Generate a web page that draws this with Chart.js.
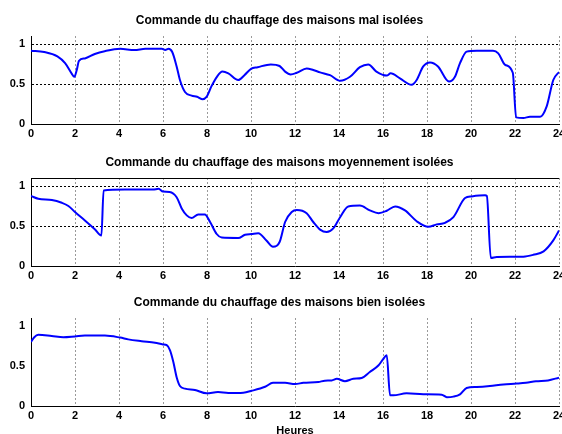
<!DOCTYPE html>
<html>
<head>
<meta charset="utf-8">
<script src="https://cdn.jsdelivr.net/npm/chart.js"></script>
<style>
  html, body { margin: 0; padding: 0; background: #fff; width: 562px; height: 434px; overflow: hidden; }
  canvas { position: absolute; left: 0; }
</style>
</head>
<body>
<canvas id="malChart" width="570" height="140" style="top:0px"></canvas>
<canvas id="moyenChart" width="570" height="140" style="top:142px"></canvas>
<canvas id="bienChart" width="570" height="160" style="top:282px"></canvas>
<script>
// Commande de chauffage (0..1) sur 24 heures
const heuresMal = [0, 0.6, 1.2, 1.55, 1.85, 1.97, 2.08, 2.18, 2.45, 2.9, 3.35, 4.05, 4.7, 5.2, 5.95, 6.1, 6.25, 6.42, 6.62, 6.77,
  7.0, 7.3, 7.55, 7.78, 7.98, 8.2, 8.45, 8.7, 8.97, 9.42, 9.7, 10.0, 10.3, 10.9, 11.3, 11.55, 11.8, 12.08, 12.53, 12.83,
  13.14, 13.59, 14.05, 14.5, 14.95, 15.33, 15.7, 16.17, 16.35, 16.77, 17.3, 17.53, 17.83, 18.14, 18.5, 19.0, 19.27, 19.5,
  19.8, 20.26, 21.0, 21.24, 21.55, 21.9, 22.05, 22.38, 22.68, 23.14, 23.44, 23.74, 24];
const commandeMal = [0.917, 0.9, 0.845, 0.76, 0.63, 0.59, 0.675, 0.79, 0.82, 0.875, 0.91, 0.94, 0.925, 0.94, 0.94, 0.925, 0.94, 0.9, 0.72, 0.55,
  0.40, 0.355, 0.34, 0.31, 0.34, 0.47, 0.59, 0.655, 0.633, 0.55, 0.61, 0.69, 0.71, 0.745, 0.725, 0.655, 0.62, 0.64, 0.695, 0.675,
  0.645, 0.61, 0.54, 0.59, 0.71, 0.745, 0.655, 0.605, 0.635, 0.57, 0.49, 0.55, 0.72, 0.77, 0.72, 0.53, 0.59, 0.76,
  0.905, 0.917, 0.917, 0.883, 0.74, 0.64, 0.083, 0.075, 0.09, 0.09, 0.22, 0.55, 0.65];

const heuresMoyen = [0, 0.33, 0.95, 1.4, 1.7, 2.0, 2.45, 2.9, 3.2, 3.3, 4.27, 5.55, 5.8, 6.0, 6.3, 6.62, 6.85, 7.08, 7.3, 7.6,
  7.9, 8.14, 8.44, 8.67, 9.42, 9.73, 10.03, 10.33, 10.7, 11.0, 11.3, 11.55, 11.85, 12.08, 12.53, 12.83, 13.14, 13.44, 13.74, 14.05,
  14.42, 14.95, 15.4, 15.8, 16.17, 16.55, 17.0, 17.53, 18.06, 18.44, 18.82, 19.2, 19.73, 20.03, 20.64, 20.72, 20.9, 21.17, 22.38, 22.83,
  23.3, 23.74, 24];
const commandeMoyen = [0.875, 0.84, 0.825, 0.79, 0.75, 0.675, 0.57, 0.46, 0.38, 0.945, 0.955, 0.955, 0.965, 0.93, 0.925, 0.86, 0.72, 0.633, 0.6, 0.645,
  0.645, 0.55, 0.40, 0.355, 0.35, 0.39, 0.40, 0.41, 0.32, 0.24, 0.3, 0.55, 0.675, 0.70, 0.66, 0.55, 0.455, 0.425, 0.47, 0.61,
  0.745, 0.755, 0.695, 0.66, 0.69, 0.745, 0.695, 0.56, 0.49, 0.52, 0.54, 0.61, 0.85, 0.87, 0.883, 0.875, 0.10, 0.112, 0.117, 0.14,
  0.183, 0.32, 0.445];

const heuresBien = [0, 0.15, 0.33, 0.94, 1.47, 2.0, 2.45, 3.36, 4.05, 4.42, 5.03, 5.64, 6.0, 6.17, 6.32, 6.47, 6.62, 6.77, 7.0, 7.45,
  7.98, 8.5, 8.97, 9.65, 10.03, 10.64, 11.0, 11.55, 12.0, 12.38, 13.06, 13.36, 13.67, 13.9, 14.27, 14.65, 15.03, 15.4, 15.8, 16.0,
  16.17, 16.32, 16.47, 17.07, 17.83, 18.67, 18.9, 19.2, 19.5, 19.8, 20.26, 20.86, 21.47, 22.07, 22.5, 22.95, 23.5, 24];
const commandeBien = [0.8, 0.86, 0.89, 0.875, 0.86, 0.87, 0.88, 0.88, 0.855, 0.833, 0.81, 0.79, 0.77, 0.76, 0.695, 0.55, 0.36, 0.25, 0.217, 0.2,
  0.158, 0.175, 0.163, 0.167, 0.19, 0.24, 0.29, 0.29, 0.275, 0.29, 0.3, 0.317, 0.32, 0.34, 0.31, 0.34, 0.35, 0.425, 0.51, 0.583,
  0.633, 0.133, 0.133, 0.158, 0.146, 0.142, 0.11, 0.117, 0.146, 0.225, 0.237, 0.25, 0.27, 0.28, 0.29, 0.31, 0.32, 0.354];

const yTicks = [0, 0.5, 1];

const FONT = '"Liberation Sans", Arial, sans-serif';
const tickFont = { family: FONT, size: 11, weight: 'bold' };

// trait noir en haut de la zone de tracé
const cadreHaut = {
  id: 'cadreHaut',
  afterDraw(chart) {
    const a = chart.chartArea;
    const c = chart.ctx;
    c.save();
    c.strokeStyle = '#000';
    c.lineWidth = 1;
    c.beginPath();
    c.moveTo(a.left, Math.round(a.top) + 0.5);
    c.lineTo(a.right, Math.round(a.top) + 0.5);
    c.stroke();
    c.restore();
  }
};

function buildChart(id, titre, heures, commande, opts) {
  const ctx = document.getElementById(id).getContext('2d');
  return new Chart(ctx, {
    type: 'line',
    data: {
      datasets: [{
        data: heures.map((h, i) => ({ x: h, y: commande[i] })),
        borderColor: '#0000ff',
        borderWidth: 2,
        pointRadius: 0,
        fill: false,
        cubicInterpolationMode: 'monotone'
      }]
    },
    plugins: opts.cadre ? [cadreHaut] : [],
    options: {
      responsive: false,
      animation: false,
      layout: { padding: { left: 0, right: 11, top: 0, bottom: 0 } },
      plugins: {
        legend: { display: false },
        tooltip: { enabled: false },
        title: {
          display: true,
          text: titre,
          color: '#000',
          font: { family: FONT, size: 12, weight: 'bold' },
          padding: { top: 13, bottom: 8.6 }
        }
      },
      scales: {
        x: {
          type: 'linear',
          min: 0,
          max: 24,
          afterFit: s => { s.height = opts.xHeight; },
          ticks: { stepSize: 2, color: '#000', font: tickFont, padding: 3, maxRotation: 0, autoSkip: false },
          grid: { color: '#9a9a9a', lineWidth: 1, drawTicks: false },
          border: { color: '#000', width: 1, dash: [2, 2] },
          title: {
            display: !!opts.xTitle,
            text: opts.xTitle || '',
            color: '#000',
            font: tickFont,
            padding: { top: 0, bottom: 4.4 }
          }
        },
        y: {
          min: 0,
          max: 1.1,
          afterBuildTicks: s => { s.ticks = yTicks.map(v => ({ value: v })); },
          afterFit: s => { s.width = 31; },
          ticks: { color: '#000', font: tickFont, padding: 6, callback: v => String(v) },
          grid: {
            display: opts.yGrid,
            color: c => (c.tick && c.tick.value === 0) ? 'rgba(0,0,0,0)' : '#000',
            lineWidth: 1,
            drawTicks: false
          },
          border: { color: '#000', width: 1, dash: [2, 2] }
        }
      }
    }
  });
}

buildChart('malChart', 'Commande du chauffage des maisons mal isolées', heuresMal, commandeMal,
  { xHeight: 16, yGrid: true });
buildChart('moyenChart', 'Commande du chauffage des maisons moyennement isolées', heuresMoyen, commandeMoyen,
  { xHeight: 16, yGrid: true, cadre: true });
buildChart('bienChart', 'Commande du chauffage des maisons bien isolées', heuresBien, commandeBien,
  { xHeight: 36, yGrid: false, xTitle: 'Heures' });
</script>
</body>
</html>
